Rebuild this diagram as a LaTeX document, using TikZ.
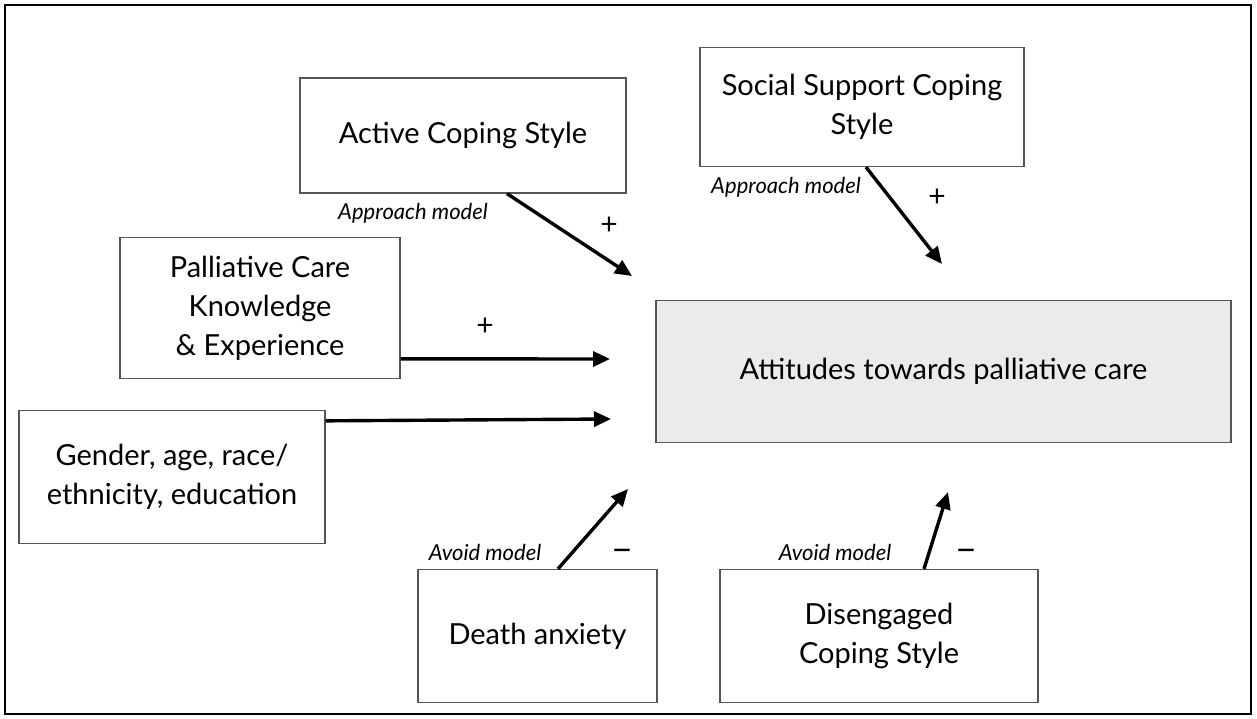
\documentclass[tikz,border=0pt]{standalone}
\usepackage{fontspec}
\setmainfont{Lato}
\usetikzlibrary{arrows.meta,calc}
\definecolor{boxline}{HTML}{555555}
\definecolor{attfill}{HTML}{EBEBEB}
\begin{document}
\begin{tikzpicture}[x=1pt,y=-1pt,
  box/.style={draw=boxline,line width=1.3pt,fill=white,align=center,inner sep=0pt,
    font=\fontsize{29}{39}\selectfont},
  link/.style={line width=3.4pt,-{Triangle[length=17pt,width=15pt]}},
  lab/.style={font=\fontsize{22}{24}\selectfont\itshape},
  sign/.style={font=\fontsize{30}{32}\selectfont},
  minus/.style={font=\fontsize{36}{38}\selectfont}]
\useasboundingbox (0,0) rectangle (1257,719);
\draw[line width=2.4pt] (5,5) rectangle (1251,714);
\node[box,minimum width=326pt,minimum height=115pt] (active) at (463,135.5) {Active Coping Style};
\node[box,minimum width=324pt,minimum height=119pt] (social) at (862,107) {Social Support Coping\\Style};
\node[box,minimum width=280pt,minimum height=141pt] (pallia) at (260,308) {Palliative Care\\Knowledge\\\& Experience};
\node[box,minimum width=306pt,minimum height=133pt] (gender) at (172,477) {Gender, age, race/\\ethnicity, education};
\node[box,fill=attfill,minimum width=575pt,minimum height=142pt] (att) at (943.5,371.5) {Attitudes towards palliative care};
\node[box,minimum width=239pt,minimum height=133pt] (death) at (537.5,636) {Death anxiety};
\node[box,minimum width=318pt,minimum height=133pt] (diseng) at (879,636) {Disengaged\\Coping Style};
\coordinate (e1) at (632,276);
\coordinate (e2) at (942,264);
\coordinate (e3) at (610,359);
\coordinate (e4) at (611,419);
\coordinate (e5) at (628,489);
\coordinate (e6) at (948,492);
\draw[link] ($(active.south)+(44,0)$) -- (e1);
\draw[link] ($(social.south)+(4,0)$) -- (e2);
\draw[link] ($(pallia.north east)+(0,122)$) -- (e3);
\draw[link] ($(gender.north east)+(0,11)$) -- (e4);
\draw[link] ($(death.north)+(20.5,0)$) -- (e5);
\draw[link] ($(diseng.north)+(45,0)$) -- (e6);
\node[lab] (l1) at (413,213) {Approach model};
\node[lab] (l2) at (786,187) {Approach model};
\node[lab] (l3) at (485,552) {Avoid model};
\node[lab] (l4) at (835,552) {Avoid model};
\node[sign] (s1) at (609,226) {+};
\node[sign] (s2) at (937,198) {+};
\node[sign] (s3) at (485,327) {+};
\node[minus] (s4) at (622,556) {\char"2212};
\node[minus] (s5) at (966,556) {\char"2212};
\end{tikzpicture}
\end{document}
